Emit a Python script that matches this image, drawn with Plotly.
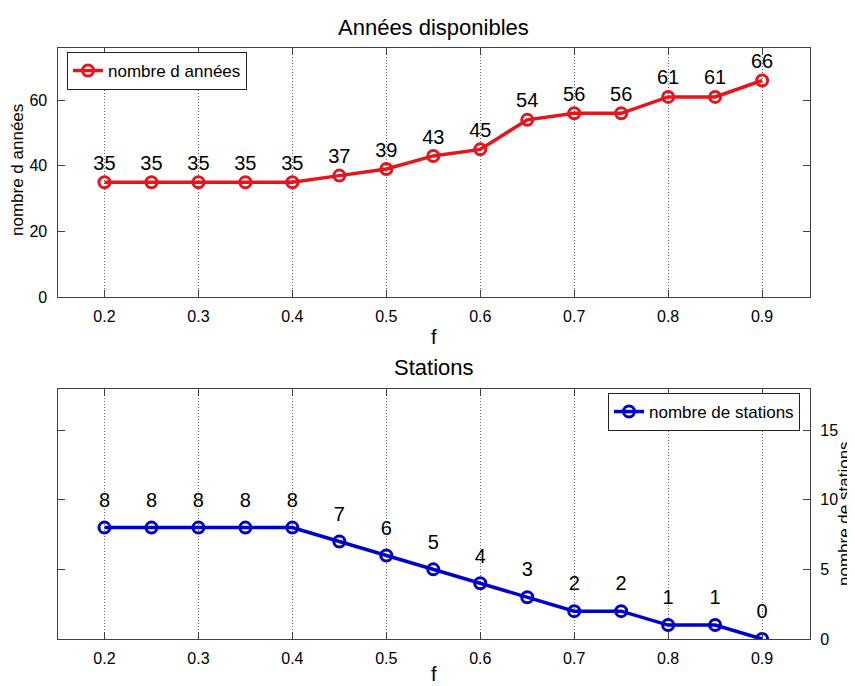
import plotly.graph_objects as go

f_values = [0.2, 0.25, 0.3, 0.35, 0.4, 0.45, 0.5, 0.55, 0.6, 0.65, 0.7, 0.75, 0.8, 0.85, 0.9]
nb_annees = [35, 35, 35, 35, 35, 37, 39, 43, 45, 54, 56, 56, 61, 61, 66]
nb_stations = [8, 8, 8, 8, 8, 7, 6, 5, 4, 3, 2, 2, 1, 1, 0]
x_ticks = [0.2, 0.3, 0.4, 0.5, 0.6, 0.7, 0.8, 0.9]
y1_ticks = [0, 20, 40, 60]
y2_ticks = [0, 5, 10, 15]

# the page body has an 8px margin: the figure starts at (8, 8) in the window
OFF = 8
FW, FH = 855 - OFF, 686 - OFF
FONT = "Arial, Liberation Sans, sans-serif"
RED = "#e8141c"
BLUE = "#0000cc"
AX = "#404040"

def px(v):
    return (v - OFF) / FW

def py(v):
    return 1 - (v - OFF) / FH

fig = go.Figure()

fig.add_trace(go.Scatter(
    x=f_values, y=nb_annees, mode="lines+markers", name="nombre d années",
    line=dict(color=RED, width=3.5),
    marker=dict(symbol="circle-open", size=11, color=RED, line=dict(width=3, color=RED)),
    xaxis="x", yaxis="y", legend="legend"))
fig.add_trace(go.Scatter(
    x=f_values, y=[v + 5.3 for v in nb_annees], mode="text",
    text=[str(v) for v in nb_annees], textposition="middle center",
    textfont=dict(family=FONT, size=20, color="black"),
    showlegend=False, hoverinfo="skip", xaxis="x", yaxis="y"))

fig.add_trace(go.Scatter(
    x=f_values, y=nb_stations, mode="lines+markers", name="nombre de stations",
    line=dict(color=BLUE, width=3.5),
    marker=dict(symbol="circle-open", size=11, color=BLUE, line=dict(width=3, color=BLUE)),
    xaxis="x2", yaxis="y2", legend="legend2"))
fig.add_trace(go.Scatter(
    x=f_values, y=[v + 1.85 for v in nb_stations], mode="text",
    text=[str(v) for v in nb_stations], textposition="middle center",
    textfont=dict(family=FONT, size=20, color="black"),
    showlegend=False, hoverinfo="skip", xaxis="x2", yaxis="y2"))

xdom = [px(57.5), px(810)]
common_x = dict(
    range=[0.15, 0.951], tickvals=x_ticks, ticktext=[f"{t:.1f}" for t in x_ticks],
    showgrid=True, gridcolor="#666666", griddash="1px,2px", gridwidth=1,
    zeroline=False, showline=True, linecolor=AX, linewidth=1.2, mirror="allticks",
    ticks="inside", ticklen=7, tickcolor=AX, tickwidth=1,
    tickfont=dict(family=FONT, size=16, color="black"), ticklabelstandoff=5,
    domain=xdom, automargin=False)
common_y = dict(
    showgrid=False, zeroline=False, showline=True, linecolor=AX, linewidth=1.2,
    mirror="allticks", ticks="inside", ticklen=7, tickcolor=AX, tickwidth=1,
    tickfont=dict(family=FONT, size=16, color="black"), ticklabelstandoff=6,
    automargin=False)

fig.update_layout(
    width=FW, height=FH, margin=dict(l=0, r=0, t=0, b=0, autoexpand=False),
    paper_bgcolor="white", plot_bgcolor="white",
    font=dict(family=FONT, color="black"),
    xaxis=dict(**common_x, anchor="y"),
    yaxis=dict(**common_y, range=[0, 75.9], tickvals=y1_ticks, side="left",
               domain=[py(297), py(48)], anchor="x"),
    xaxis2=dict(**common_x, anchor="y2"),
    yaxis2=dict(**common_y, range=[0, 17.95], tickvals=y2_ticks, side="right",
                domain=[py(639), py(389)], anchor="x2"),
    legend=dict(x=px(67), y=py(52), xanchor="left", yanchor="top",
                bgcolor="white", bordercolor="#222222", borderwidth=1,
                font=dict(family=FONT, size=17, color="black"),
                itemwidth=30, tracegroupgap=0),
    legend2=dict(x=px(800), y=py(393), xanchor="right", yanchor="top",
                 bgcolor="white", bordercolor="#222222", borderwidth=1,
                 font=dict(family=FONT, size=17, color="black"),
                 itemwidth=30, tracegroupgap=0),
    showlegend=True,
)

annots = [
    dict(text="Années disponibles", x=px(433.75), y=py(27), size=22, angle=0),
    dict(text="f", x=px(433.75), y=py(337), size=20, angle=0),
    dict(text="Stations", x=px(433.75), y=py(367), size=22, angle=0),
    dict(text="f", x=px(433.75), y=py(674), size=20, angle=0),
    dict(text="nombre d années", x=px(17), y=py(170), size=17, angle=-90),
    dict(text="nombre de stations", x=px(844), y=py(514), size=17, angle=-90),
]
for a in annots:
    fig.add_annotation(text=a["text"], x=a["x"], y=a["y"], xref="paper", yref="paper",
                       xanchor="center", yanchor="middle", showarrow=False,
                       textangle=a["angle"],
                       font=dict(family=FONT, size=a["size"], color="black"))

fig.write_html("out.html")
